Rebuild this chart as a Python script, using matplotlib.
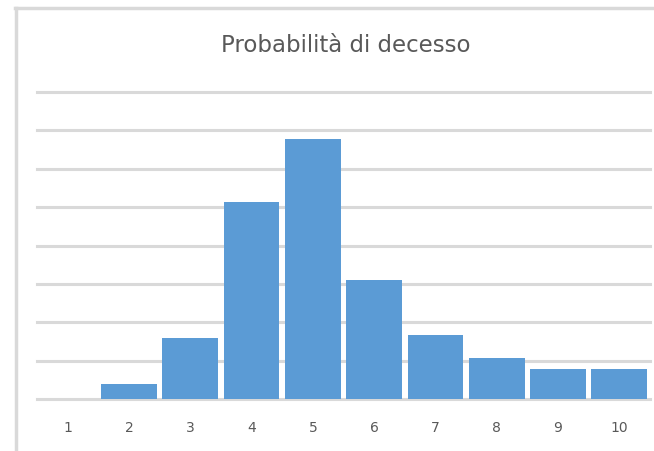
import matplotlib
matplotlib.use("Agg")
import matplotlib.pyplot as plt
from matplotlib.lines import Line2D

# death probability by class
categories = ["1", "2", "3", "4", "5", "6", "7", "8", "9", "10"]
values = [0.0, 0.40, 1.60, 5.13, 6.77, 3.09, 1.68, 1.08, 0.77, 0.77]

bar_color = "#5B9BD5"
grid_color = "#D9D9D9"
text_color = "#595959"

plt.rcParams["font.family"] = ["DejaVu Sans"]

fig = plt.figure(figsize=(6.54, 4.51), dpi=100)
W, H = 654, 451
ax = fig.add_axes([37 / W, (H - 399) / H, (650 - 37) / W, (399 - 92) / H])

x = list(range(len(categories)))
ax.bar(x, values, width=0.91, color=bar_color, zorder=2)

ax.set_xlim(-0.5, len(categories) - 0.5)
ax.set_ylim(0, 8)
ax.set_yticks(range(0, 9))
ax.yaxis.grid(True, color=grid_color, linewidth=2.2, zorder=0)
ax.set_axisbelow(True)
for gl in ax.get_ygridlines():
    gl.set_clip_on(False)
ax.tick_params(axis="y", left=False, labelleft=False)
ax.tick_params(axis="x", length=0, pad=16, labelsize=10, labelcolor=text_color)
ax.set_xticks(x)
ax.set_xticklabels(categories)
for s in ax.spines.values():
    s.set_visible(False)

fig.text(346 / W, 1 - 45 / H, "Probabilità di decesso", ha="center", va="center",
         fontsize=16.5, color=text_color)

# chart frame (left and top edges)
fig.add_artist(Line2D([15.5 / W, 15.5 / W], [0, 1 - 8 / H], color=grid_color,
                      linewidth=2.5, transform=fig.transFigure))
fig.add_artist(Line2D([14.5 / W, 1], [1 - 8 / H, 1 - 8 / H], color=grid_color,
                      linewidth=2.5, transform=fig.transFigure))

fig.savefig("out.png", dpi=100)
